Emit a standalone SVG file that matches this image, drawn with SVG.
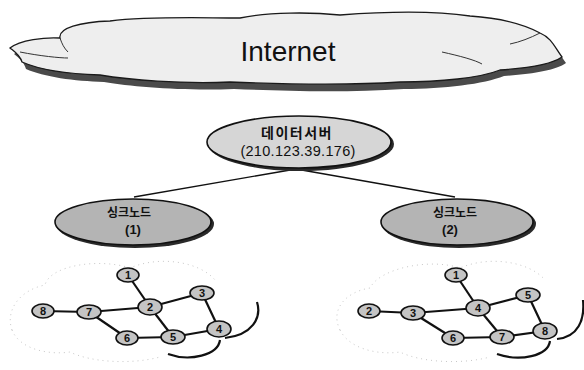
<svg xmlns="http://www.w3.org/2000/svg" width="584" height="370" viewBox="0 0 584 370">
<defs>
<style>
.cloudShadow{fill:#4a4a4a;}
.cloud{fill:#eeeeee;stroke:#1a1a1a;stroke-width:1.3;}
.lobe{fill:none;stroke:#333;stroke-width:1;}
.shadow{fill:#2a2a2a;}
.server{fill:#d6d6d6;stroke:#111;stroke-width:1.6;}
.sink{fill:#b4b4b4;stroke:#111;stroke-width:1.6;}
.sn{fill:#c4c4c4;stroke:#111;stroke-width:1.6;}
.link{stroke:#111;stroke-width:1.4;fill:none;}
.edge{stroke:#111;stroke-width:2.2;fill:none;}
.arc{fill:none;stroke:#111;stroke-width:2.2;}
.faint{fill:none;stroke:#c8c8c8;stroke-width:1;stroke-dasharray:1 4;}
.kr{font-family:"Noto Sans CJK KR","Liberation Sans",sans-serif;font-weight:bold;fill:#111;text-anchor:middle;}
.num{font-family:"Liberation Sans",sans-serif;font-weight:bold;fill:#111;text-anchor:middle;font-size:11px;}
</style>
</defs>

<g id="internet">
<path class="cloudShadow" d="M 14 54 C 24 46, 49 43, 64 44 C 62 34, 84 28, 114 27 C 154 22, 204 24, 244 24 C 274 18, 314 18, 344 21 C 384 18, 434 16, 474 22 C 504 24, 529 31, 544 39 C 556 44, 559 54, 566 63 C 556 70, 534 74, 504 76 C 484 84, 444 89, 404 89 C 344 93, 284 91, 234 89 C 184 91, 134 87, 104 82 C 74 81, 44 77, 26 69 C 24 62, 19 58, 14 54 Z"/>
<path class="cloud" d="M 10 48 C 20 40, 45 37, 60 38 C 58 28, 80 22, 110 21 C 150 16, 200 18, 240 18 C 270 12, 310 12, 340 15 C 380 12, 430 10, 470 16 C 500 18, 525 25, 540 33 C 552 38, 555 48, 562 57 C 552 64, 530 68, 500 70 C 480 78, 440 82, 400 82 C 340 86, 280 84, 230 82 C 180 84, 130 80, 100 75 C 70 74, 40 70, 22 62 C 20 55, 15 52, 10 48 Z"/>
<path class="lobe" d="M 60 38 C 62 44, 64 48, 68 52"/>
<path class="lobe" d="M 20 52 C 40 56, 60 58, 68 58"/>
<path class="lobe" d="M 540 33 C 530 38, 520 42, 510 44"/>
<path class="lobe" d="M 442 52 C 460 56, 475 60, 482 64"/>
<text x="288" y="61" font-family="Liberation Sans, Arial, sans-serif" font-size="28" text-anchor="middle" fill="#111">Internet</text>
</g>

<g id="connectors">
<line class="link" x1="296" y1="169" x2="134" y2="197"/>
<line class="link" x1="296" y1="169" x2="455" y2="197"/>
<line class="edge" x1="128" y1="275" x2="150" y2="307"/>
<line class="edge" x1="150" y1="307" x2="202" y2="293"/>
<line class="edge" x1="150" y1="307" x2="89" y2="312"/>
<line class="edge" x1="150" y1="307" x2="173" y2="337"/>
<line class="edge" x1="202" y1="293" x2="219" y2="329"/>
<line class="edge" x1="219" y1="329" x2="173" y2="337"/>
<line class="edge" x1="173" y1="337" x2="127" y2="338"/>
<line class="edge" x1="127" y1="338" x2="89" y2="312"/>
<line class="edge" x1="89" y1="312" x2="43" y2="311"/>
<line class="edge" x1="456" y1="275" x2="478" y2="308"/>
<line class="edge" x1="478" y1="308" x2="528" y2="295"/>
<line class="edge" x1="478" y1="308" x2="413" y2="313"/>
<line class="edge" x1="478" y1="308" x2="502" y2="337"/>
<line class="edge" x1="528" y1="295" x2="545" y2="331"/>
<line class="edge" x1="545" y1="331" x2="502" y2="337"/>
<line class="edge" x1="502" y1="337" x2="453" y2="338"/>
<line class="edge" x1="453" y1="338" x2="413" y2="313"/>
<line class="edge" x1="413" y1="313" x2="369" y2="311"/>
</g>

<g id="server">
<ellipse class="shadow" cx="301" cy="144" rx="93" ry="27"/>
<ellipse class="server" cx="299" cy="142" rx="92" ry="26"/>
<text class="kr" x="297" y="138" font-size="14" letter-spacing="1.5">데이터서버</text>
<text x="298" y="156" font-family="Liberation Sans, Arial, sans-serif" font-size="14.5" text-anchor="middle" fill="#111" letter-spacing="0.3">(210.123.39.176)</text>
</g>

<g id="sink1">
<ellipse class="shadow" cx="135" cy="224" rx="79" ry="24"/>
<ellipse class="sink" cx="133" cy="222" rx="78" ry="23"/>
<text class="kr" x="129" y="217" font-size="12">싱크노드</text>
<text x="133" y="234" font-family="Liberation Sans, Arial, sans-serif" font-weight="bold" font-size="13" text-anchor="middle" fill="#111">(1)</text>
</g>

<g id="sink2">
<ellipse class="shadow" cx="459" cy="224" rx="77" ry="24"/>
<ellipse class="sink" cx="457" cy="222" rx="76" ry="23"/>
<text class="kr" x="455" y="217" font-size="12">싱크노드</text>
<text x="450" y="234" font-family="Liberation Sans, Arial, sans-serif" font-weight="bold" font-size="13" text-anchor="middle" fill="#111">(2)</text>
</g>

<g id="cloud-left">
<path class="faint" d="M 12 330 C 5 310, 20 290, 45 285 C 50 265, 100 258, 130 268 C 160 255, 200 262, 215 280"/>
<path class="faint" d="M 12 330 C 20 350, 50 355, 70 352 C 90 362, 130 365, 160 357"/>
<path class="arc" d="M 257 302 C 262 318, 252 335, 225 338"/>
<path class="arc" d="M 220 340 C 218 355, 190 362, 168 354"/>
</g>

<g id="cloud-right">
<path class="faint" d="M 340 330 C 330 310, 345 292, 370 288 C 380 268, 430 258, 460 268 C 490 255, 530 262, 545 280"/>
<path class="faint" d="M 340 330 C 350 350, 380 355, 400 352 C 420 362, 460 365, 490 357"/>
<path class="arc" d="M 583 300 C 585 320, 578 337, 557 339"/>
<path class="arc" d="M 550 341 C 548 356, 520 362, 497 354"/>
</g>

<g id="L1"><ellipse class="sn" cx="128" cy="275" rx="11" ry="7"/><text class="num" x="128" y="279">1</text></g>
<g id="L2"><ellipse class="sn" cx="150" cy="307" rx="12" ry="8"/><text class="num" x="150" y="311">2</text></g>
<g id="L3"><ellipse class="sn" cx="202" cy="293" rx="12" ry="7"/><text class="num" x="202" y="297">3</text></g>
<g id="L4"><ellipse class="sn" cx="219" cy="329" rx="12" ry="8"/><text class="num" x="219" y="333">4</text></g>
<g id="L5"><ellipse class="sn" cx="173" cy="337" rx="12" ry="7"/><text class="num" x="173" y="341">5</text></g>
<g id="L6"><ellipse class="sn" cx="127" cy="338" rx="11" ry="7"/><text class="num" x="127" y="342">6</text></g>
<g id="L7"><ellipse class="sn" cx="89" cy="312" rx="12" ry="7"/><text class="num" x="89" y="316">7</text></g>
<g id="L8"><ellipse class="sn" cx="43" cy="311" rx="11" ry="7"/><text class="num" x="43" y="315">8</text></g>

<g id="R1"><ellipse class="sn" cx="456" cy="275" rx="11" ry="7"/><text class="num" x="456" y="279">1</text></g>
<g id="R2"><ellipse class="sn" cx="369" cy="311" rx="11" ry="7"/><text class="num" x="369" y="315">2</text></g>
<g id="R3"><ellipse class="sn" cx="413" cy="313" rx="12" ry="7"/><text class="num" x="413" y="317">3</text></g>
<g id="R4"><ellipse class="sn" cx="478" cy="308" rx="12" ry="8"/><text class="num" x="478" y="312">4</text></g>
<g id="R5"><ellipse class="sn" cx="528" cy="295" rx="12" ry="7"/><text class="num" x="528" y="299">5</text></g>
<g id="R6"><ellipse class="sn" cx="453" cy="338" rx="11" ry="7"/><text class="num" x="453" y="342">6</text></g>
<g id="R7"><ellipse class="sn" cx="502" cy="337" rx="12" ry="7"/><text class="num" x="502" y="341">7</text></g>
<g id="R8"><ellipse class="sn" cx="545" cy="331" rx="12" ry="8"/><text class="num" x="545" y="335">8</text></g>
</svg>
